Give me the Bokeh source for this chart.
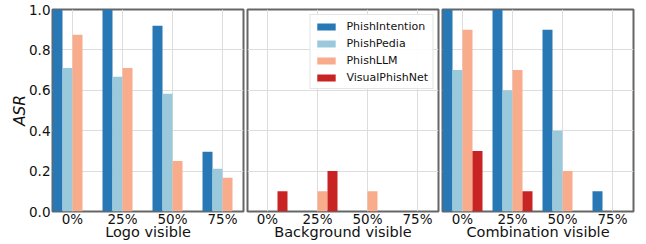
import numpy as np
from bokeh.plotting import figure
from bokeh.layouts import row
from bokeh.models import FixedTicker, Range1d, Legend, LegendItem
from bokeh.embed import file_html
from bokeh.resources import INLINE

categories = ["0%", "25%", "50%", "75%"]
series = ["PhishIntention", "PhishPedia", "PhishLLM", "VisualPhishNet"]
colors = ["#2878b5", "#9ac9db", "#f8ac8c", "#c82423"]

panel_titles = ["Logo visible", "Background visible", "Combination visible"]

logo_pi = [1.0, 1.0, 0.92, 0.296]
logo_pp = [0.711, 0.667, 0.583, 0.212]
logo_llm = [0.875, 0.711, 0.25, 0.167]
logo_vpn = [0.0, 0.0, 0.0, 0.0]

bg_pi = [0.0, 0.0, 0.0, 0.0]
bg_pp = [0.0, 0.0, 0.0, 0.0]
bg_llm = [0.0, 0.1, 0.1, 0.0]
bg_vpn = [0.1, 0.2, 0.0, 0.0]

combo_pi = [1.0, 1.0, 0.9, 0.1]
combo_pp = [0.7, 0.6, 0.4, 0.0]
combo_llm = [0.9, 0.7, 0.2, 0.0]
combo_vpn = [0.3, 0.1, 0.0, 0.0]

panels = [
    [logo_pi, logo_pp, logo_llm, logo_vpn],
    [bg_pi, bg_pp, bg_llm, bg_vpn],
    [combo_pi, combo_pp, combo_llm, combo_vpn],
]

FONT = "DejaVu Sans"
BAR_W = 0.2
offsets = [-0.3, -0.1, 0.1, 0.3]
FRAME_W = 191
FRAME_H = 202
H_TOP = 9
H_BOT = 33

figs = []
for i, (title, data) in enumerate(zip(panel_titles, panels)):
    if i == 0:
        bl, br = 52, 2
    elif i == 1:
        bl, br = 2, 2
    else:
        bl, br = 2, 12
    p = figure(width=bl + FRAME_W + br, height=H_TOP + FRAME_H + H_BOT,
               output_backend="svg", toolbar_location=None,
               x_range=Range1d(-0.4, 3.42), y_range=Range1d(0, 1.0),
               min_border_left=bl, min_border_right=br,
               min_border_top=H_TOP, min_border_bottom=H_BOT)
    renderers = []
    idx = np.arange(len(categories))
    for s, (vals, col, off) in enumerate(zip(data, colors, offsets)):
        r = p.vbar(x=idx + off, top=vals, bottom=0, width=BAR_W,
                   fill_color=col, line_color=None)
        renderers.append(r)

    p.xaxis.ticker = FixedTicker(ticks=list(range(len(categories))))
    p.xaxis.major_label_overrides = {k: c for k, c in enumerate(categories)}
    p.yaxis.ticker = FixedTicker(ticks=[0.0, 0.2, 0.4, 0.6, 0.8, 1.0])
    p.yaxis.major_label_overrides = {0.0: "0.0", 0.2: "0.2", 0.4: "0.4",
                                     0.6: "0.6", 0.8: "0.8", 1.0: "1.0"}
    for ax in (p.xaxis, p.yaxis):
        ax.major_tick_out = 0
        ax.major_tick_in = 0
        ax.minor_tick_out = 0
        ax.minor_tick_in = 0
        ax.axis_line_color = None
        ax.major_label_text_font = FONT
        ax.major_label_text_font_size = "13.5px"
        ax.major_label_text_color = "#111111"
        ax.axis_label_text_font = FONT
        ax.axis_label_text_font_style = "normal"
        ax.axis_label_text_color = "#111111"
    p.xaxis.major_label_standoff = -1
    p.yaxis.major_label_standoff = 2
    p.xaxis.axis_label = title
    p.xaxis.axis_label_text_font_size = "14.5px"
    p.xaxis.axis_label_standoff = -6
    if i == 0:
        p.yaxis.axis_label = "ASR"
        p.yaxis.axis_label_text_font_style = "italic"
        p.yaxis.axis_label_text_font_size = "15.5px"
        p.yaxis.axis_label_standoff = -3
    else:
        p.yaxis.visible = False

    p.xgrid.ticker = FixedTicker(ticks=list(range(len(categories))))
    p.grid.grid_line_color = "#dddddd"
    p.grid.grid_line_width = 1
    p.outline_line_color = "#666666"
    p.outline_line_width = 2
    p.background_fill_color = "white"
    p.border_fill_color = "white"

    if i == 1:
        items = [LegendItem(label=name, renderers=[r]) for name, r in zip(series, renderers)]
        leg = Legend(items=items, location="top_right")
        leg.label_text_font = FONT
        leg.label_text_font_size = "11px"
        leg.label_text_color = "#111111"
        leg.glyph_width = 23
        leg.glyph_height = 9
        leg.label_height = 14
        leg.spacing = 3
        leg.padding = 4
        leg.margin = 5
        leg.label_standoff = 9
        leg.border_line_color = "#cccccc"
        leg.border_line_width = 1
        leg.background_fill_alpha = 0.9
        p.add_layout(leg, "center")
    figs.append(p)

layout = row(*figs)
open("out.html", "w").write(file_html(layout, INLINE))
